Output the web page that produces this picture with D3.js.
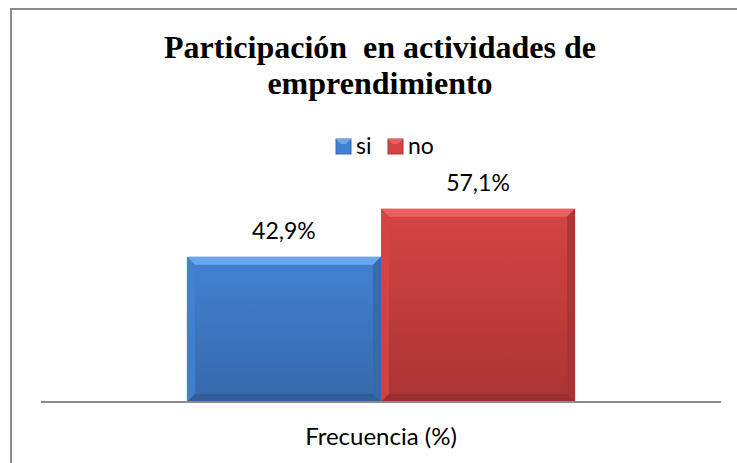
<!DOCTYPE html>
<html>
<head>
<meta charset="utf-8">
<script src="https://cdn.jsdelivr.net/npm/d3@7"></script>
<style>
  html, body { margin: 0; padding: 0; background: #fff; overflow: hidden; }
  svg { display: block; }
</style>
</head>
<body>
<script>
// Datos del gráfico
const categorias = ["Frecuencia (%)"];
const series = ["si", "no"];
const valores = [42.9, 57.1];
const etiquetas = ["42,9%", "57,1%"];
const titulo = ["Participación  en actividades de", "emprendimiento"];

const width = 737, height = 463;
const colores = { si: ["#6aa6ee", "#4281d2", "#3668ab"], no: ["#ea6060", "#d54444", "#ab3434"] };
const fuente = "Lato, 'Open Sans', sans-serif";

const svg = d3.select("body").append("svg")
  .attr("width", width)
  .attr("height", height);

const defs = svg.append("defs");
series.forEach(s => {
  const g = defs.append("linearGradient").attr("id", "grad-" + s)
    .attr("x1", 0).attr("y1", 0).attr("x2", 0).attr("y2", 1);
  g.append("stop").attr("offset", "0%").attr("stop-color", colores[s][1]);
  g.append("stop").attr("offset", "100%").attr("stop-color", colores[s][2]);
});

// marco del gráfico (sólo se ven los bordes izquierdo y superior)
svg.append("path")
  .attr("d", `M11,${height}V9H${width}`)
  .attr("fill", "none")
  .attr("stroke", "#8c8c8c")
  .attr("stroke-width", 2);

// título
svg.append("text")
  .attr("text-anchor", "middle")
  .attr("font-family", "'Liberation Serif', 'Times New Roman', serif")
  .attr("font-weight", "bold").attr("font-size", 32)
  .style("white-space", "pre")
  .selectAll("tspan")
  .data(titulo)
  .join("tspan")
  .attr("x", 380)
  .attr("y", (d, i) => 58 + i * 36)
  .text(d => d);

// escalas
const y = d3.scaleLinear().domain([0, 60]).range([402, 199]);
const x0 = d3.scaleBand().domain(categorias).range([41, 721]).paddingOuter(0.376);
const x1 = d3.scaleBand().domain(series).range([0, x0.bandwidth()]);

const datos = series.map((s, i) => ({ serie: s, valor: valores[i], etiqueta: etiquetas[i] }));

const grupo = svg.append("g").attr("transform", `translate(${x0(categorias[0])},0)`);

const barras = grupo.selectAll("g.barra")
  .data(datos)
  .join("g")
  .attr("class", "barra");

const bevel = 8;

barras.append("rect")
  .attr("x", d => x1(d.serie))
  .attr("y", d => y(d.valor))
  .attr("width", x1.bandwidth())
  .attr("height", d => y(0) - y(d.valor))
  .attr("fill", d => `url(#grad-${d.serie})`);

// efecto biselado: borde superior claro, laterales e inferior oscuros
barras.append("path")
  .attr("d", d => {
    const x = x1(d.serie), w = x1.bandwidth(), t = y(d.valor);
    return `M${x},${t}L${x + w},${t}L${x + w - bevel},${t + bevel}L${x + bevel},${t + bevel}Z`;
  })
  .attr("fill", d => colores[d.serie][0]);

barras.append("path")
  .attr("d", d => {
    const x = x1(d.serie), t = y(d.valor), b = y(0);
    return `M${x},${t}L${x + bevel},${t + bevel}L${x + bevel},${b - bevel}L${x},${b}Z`;
  })
  .attr("fill", d => colores[d.serie][1])
  .attr("opacity", 0.85);

barras.append("path")
  .attr("d", d => {
    const x = x1(d.serie), w = x1.bandwidth(), t = y(d.valor), b = y(0);
    return `M${x + w},${t}L${x + w - bevel},${t + bevel}L${x + w - bevel},${b - bevel}L${x + w},${b}Z`;
  })
  .attr("fill", d => colores[d.serie][2])
  .attr("opacity", 0.9);

barras.append("path")
  .attr("d", d => {
    const x = x1(d.serie), w = x1.bandwidth(), b = y(0);
    return `M${x},${b}L${x + bevel},${b - bevel}L${x + w - bevel},${b - bevel}L${x + w},${b}Z`;
  })
  .attr("fill", d => d3.color(colores[d.serie][2]).darker(0.3));

// etiquetas de datos
barras.append("text")
  .attr("x", d => x1(d.serie) + x1.bandwidth() / 2)
  .attr("y", d => y(d.valor) - 18)
  .attr("text-anchor", "middle")
  .attr("font-family", fuente)
  .attr("font-size", 23)
  .attr("fill", "#000")
  .text(d => d.etiqueta);

// eje horizontal
svg.append("line")
  .attr("x1", 41).attr("x2", 721)
  .attr("y1", y(0)).attr("y2", y(0))
  .attr("stroke", "#8c8c8c")
  .attr("stroke-width", 2);

svg.append("text")
  .attr("x", x0(categorias[0]) + x0.bandwidth() / 2).attr("y", 445)
  .attr("text-anchor", "middle")
  .attr("font-family", fuente)
  .attr("font-size", 24)
  .attr("fill", "#000")
  .text(categorias[0]);

// leyenda
const leyenda = svg.append("g").attr("transform", "translate(336,139)");
const itemX = [0, 52];
const items = leyenda.selectAll("g")
  .data(series)
  .join("g")
  .attr("transform", (d, i) => `translate(${itemX[i]},0)`);

items.append("rect")
  .attr("width", 15).attr("height", 15)
  .attr("fill", d => colores[d][1])
  .attr("stroke", d => colores[d][2])
  .attr("stroke-width", 1);

items.append("path")
  .attr("d", "M0,0L15,0L10,5L5,5Z")
  .attr("fill", d => colores[d][0]);

items.append("text")
  .attr("x", 20).attr("y", 15)
  .attr("font-family", fuente)
  .attr("font-size", 23)
  .attr("fill", "#000")
  .text(d => d);
</script>
</body>
</html>
